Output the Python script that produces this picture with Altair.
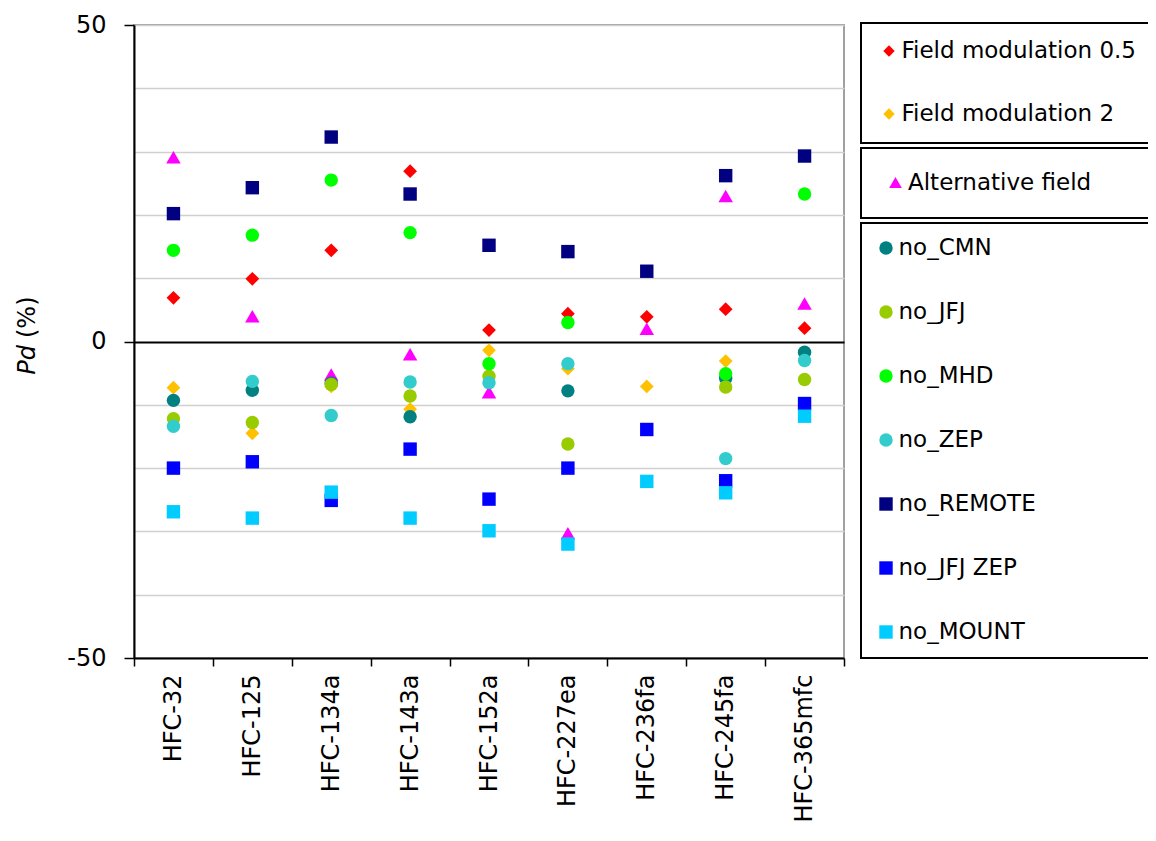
import altair as alt
import pandas as pd

# ---------------- data ----------------
categories = ["HFC-32", "HFC-125", "HFC-134a", "HFC-143a", "HFC-152a",
              "HFC-227ea", "HFC-236fa", "HFC-245fa", "HFC-365mfc"]

fm_05 = [6.9, 9.9, 14.4, 26.9, 1.8, 4.4, 3.9, 5.1, 2.1]
fm_2 = [-7.3, -14.5, -7.1, -10.7, -1.4, -4.3, -7.1, -3.1, -1.9]
alt_field = [29.1, 4.0, -5.2, -2.0, -8.0, -30.3, 2.0, 23.0, 6.0]
no_cmn = [-9.3, -7.7, -6.6, -11.9, None, -7.8, None, -5.8, -1.7]
no_jfj = [-12.2, -12.8, -6.8, -8.6, -5.5, -16.2, None, -7.2, -6.0]
no_mhd = [14.4, 16.8, 25.5, 17.2, -3.5, 3.0, None, -5.1, 23.3]
no_zep = [-13.4, -6.3, -11.7, -6.4, -6.5, -3.5, None, -18.5, -3.0]
no_remote = [20.2, 24.3, 32.3, 23.3, 15.2, 14.2, 11.1, 26.2, 29.3]
no_jfj_zep = [-20.0, -19.0, -25.1, -17.0, -24.9, -20.0, -13.9, -22.0, -9.8]
no_mount = [-26.9, -27.9, -23.8, -27.9, -29.9, -32.0, -22.1, -23.9, -11.8]

group1_names = ["Field modulation 0.5", "Field modulation 2"]
group2_names = ["Alternative field"]
group3_names = ["no_CMN", "no_JFJ", "no_MHD", "no_ZEP",
                "no_REMOTE", "no_JFJ ZEP", "no_MOUNT"]

group1_values = [fm_05, fm_2]
group2_values = [alt_field]
group3_values = [no_cmn, no_jfj, no_mhd, no_zep, no_remote, no_jfj_zep, no_mount]

group1_colors = ["#ff0000", "#ffc000"]
group2_colors = ["#ff00ff"]
group3_colors = ["#008080", "#99cc00", "#00ff00", "#33cccc",
                 "#000080", "#0000ff", "#00ccff"]

group1_shapes = ["diamond", "diamond"]
group2_shapes = ["triangle-up"]
group3_shapes = ["circle", "circle", "circle", "circle",
                 "square", "square", "square"]
group3_sizes = [180, 180, 180, 180, 105, 105, 105]

y_ticks = [-50, -40, -30, -20, -10, 0, 10, 20, 30, 40, 50]
y_title_italic = "Pd"
y_title_rest = "(%)"

FONT = "DejaVu Sans"
BLANK = "\u2800"  # blank glyph used to widen legend boxes to the page edge


def to_long(names, values):
    rows = []
    for name, vals in zip(names, values):
        for cat, v in zip(categories, vals):
            if v is not None:
                rows.append({"series": name, "compound": cat, "value": v})
    return pd.DataFrame(rows)


df1 = to_long(group1_names, group1_values)
df2 = to_long(group2_names, group2_values)
df3 = to_long(group3_names, group3_values)

# ---------------- axes ----------------
x_axis = alt.Axis(
    title=None, labelAngle=270, labelAlign="right", labelBaseline="middle",
    labelPadding=8, labelFont=FONT, labelFontSize=24, labelColor="black",
    tickBand="extent", tickSize=8, tickColor="black", tickWidth=1.5,
    domainColor="black", domainWidth=2, grid=False,
)
y_axis = alt.Axis(
    title=None, values=y_ticks,
    labelExpr="abs(datum.value) % 50 === 0 ? toString(datum.value) : ''",
    labelFont=FONT, labelFontSize=24, labelColor="black", labelPadding=18,
    labelFlush=False, labelOverlap=False,
    tickSize=10, tickWidth=1.5,
    tickColor={"condition": {"test": "abs(datum.value) % 50 === 0", "value": "black"},
               "value": "transparent"},
    domainColor="black", domainWidth=2,
    grid=True,
    gridColor={"condition": {"test": "datum.value === 0", "value": "black"},
               "value": "#d0d0d0"},
    gridWidth={"condition": {"test": "datum.value === 0", "value": 2},
               "value": 1.5},
)

X = alt.X("compound:N", sort=categories,
          scale=alt.Scale(type="band", domain=categories, paddingInner=0, paddingOuter=0),
          axis=x_axis)
Y = alt.Y("value:Q", scale=alt.Scale(domain=[-50, 50], nice=False, zero=False),
          axis=y_axis)


def legend(x, y, pad, row_pad, sym_size, n_blank):
    expr = "datum.label" if n_blank == 0 else "datum.label + '" + BLANK * n_blank + "'"
    return alt.Legend(
        title=None, orient="none", legendX=x, legendY=y, direction="vertical",
        padding=pad, rowPadding=row_pad, symbolSize=sym_size,
        labelFont=FONT, labelFontSize=23, labelColor="black",
        labelLimit=800, labelOffset=1, strokeColor="black",
        labelExpr=expr,
    )


leg1 = legend(727, -2, 16.5, 39, 130, 0)
leg2 = legend(727, 123, 23, 0, 160, 3)
leg3 = legend(727, 198, 13.5, 40, 100, 6)

layer1 = alt.Chart(df1).mark_point(filled=True, opacity=1, size=190).encode(
    x=X, y=Y,
    color=alt.Color("series:N", scale=alt.Scale(domain=group1_names, range=group1_colors), legend=leg1),
    shape=alt.Shape("series:N", scale=alt.Scale(domain=group1_names, range=group1_shapes), legend=leg1),
)
layer2 = alt.Chart(df2).mark_point(filled=True, opacity=1, size=210).encode(
    x=X, y=Y,
    color=alt.Color("series:N", scale=alt.Scale(domain=group2_names, range=group2_colors), legend=leg2),
    shape=alt.Shape("series:N", scale=alt.Scale(domain=group2_names, range=group2_shapes), legend=leg2),
)
layer3 = alt.Chart(df3).mark_point(filled=True, opacity=1).encode(
    x=X, y=Y,
    color=alt.Color("series:N", scale=alt.Scale(domain=group3_names, range=group3_colors), legend=leg3),
    shape=alt.Shape("series:N", scale=alt.Scale(domain=group3_names, range=group3_shapes), legend=leg3),
    size=alt.Size("series:N", scale=alt.Scale(domain=group3_names, range=group3_sizes), legend=None),
)

title_a = alt.Chart(pd.DataFrame({"t": [y_title_italic]})).mark_text(
    angle=270, align="right", baseline="middle", font=FONT, fontSize=24,
    fontStyle="italic", color="black",
).encode(text="t:N", x=alt.value(-106), y=alt.value(320))

title_b = alt.Chart(pd.DataFrame({"t": [y_title_rest]})).mark_text(
    angle=270, align="left", baseline="middle", font=FONT, fontSize=24,
    color="black",
).encode(text="t:N", x=alt.value(-106), y=alt.value(313))

chart = alt.layer(layer1, layer2, layer3, title_a, title_b).resolve_scale(
    color="independent", shape="independent", size="independent"
).properties(
    width=710, height=633,
    autosize=alt.AutoSizeParams(type="none"),
    padding={"left": 126, "top": 17, "right": 304, "bottom": 165},
    background="white",
).configure_view(
    stroke="#a0a0a0", strokeWidth=2
).configure_legend(
    strokeWidth=2
)

chart.save("out.html", embed_options={"renderer": "svg", "actions": False})
